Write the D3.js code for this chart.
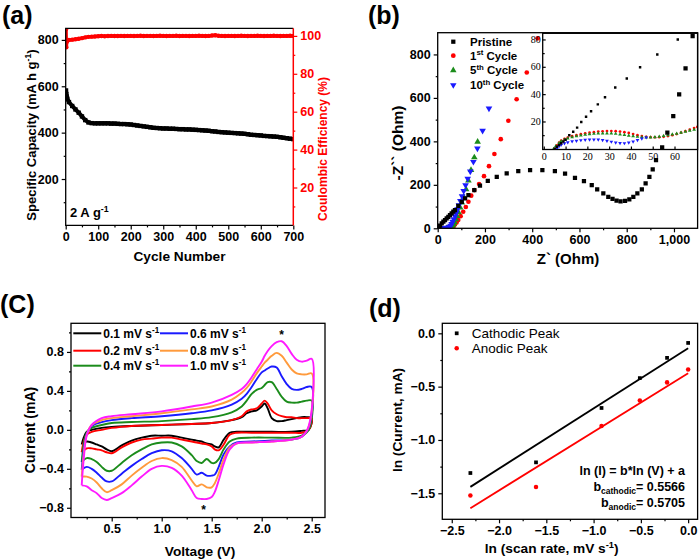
<!DOCTYPE html>
<html>
<head>
<meta charset="utf-8">
<script src="https://cdn.jsdelivr.net/npm/d3@7"></script>
<style>
  body { margin: 0; background: #fff; }
</style>
</head>
<body>
<div id="chart"></div>
<script>
// ---------------- dados ----------------
// (a) ciclagem
var cycles = [1,2,3,4,5,10,20,30,40,50,60,70,80,90,100,110,120,130,140,150,160,170,180,190,200,
  210,220,230,240,250,260,270,280,290,300,310,320,330,340,350,360,370,380,390,400,
  410,420,430,440,450,460,470,480,490,500,510,520,530,540,550,560,570,580,590,600,
  610,620,630,640,650,660,670,680,690,700];
var capacity = [582,566,556,549,545,
  532,515,500,486,470,454,444,441,440,440,
  440,440,440,439,439,438,437,437,436,435,
  433,431,429,427,425,423,421,420,419,418,
  418,417,417,416,415,415,414,414,413,412,
  411,410,409,408,406,405,403,402,401,400,
  399,398,397,396,395,393,391,390,389,388,
  386,385,384,383,382,380,378,376,374,372];
var efficiency = [103.5,94,96.8,97.3,97.5,
  97.8,98,98.2,98.5,98.8,99.2,99.5,99.6,99.7,99.8,
  99.9,99.8,99.9,100,99.9,99.9,100,99.9,100,100,
  99.9,100,100.1,99.9,100,100,99.9,100,100.1,100,
  99.9,100,100,100.1,99.9,100,100,99.9,100,100,
  100.1,100,99.9,100,100.2,100.3,100.1,100,99.9,100,
  100,99.9,100,100.1,100,99.9,100,100,100.1,100,
  99.9,100,100,100.1,100,99.9,100,100,100.1,100];

// (b) EIS
var pristineRe = [5,10,17,24,31,38,45,52,59,66,73,87,102,116,130,155,179,212,250,292,341,391,443,496,539,581,619,652,675,701,722,740,757,774,793,811,828,845,864,880,896,910,924,950,972,997,1022,1049,1079];
var pristineIm = [5,12,23,31,38,46,53,61,69,77,84,103,122,138,153,176,196,218,237,253,263,268,268,263,252,232,217,199,179,161,145,135,127,124,126,133,145,161,179,207,237,271,314,372,440,516,616,736,884];
var cycle1Re = [47,52,57,62,67,73,80,87,97,108,119,130,142,155,175,196,217,240,267,299,334,377,423];
var cycle1Im = [0,0.5,2,5,10,18,27,38,56,76,98,122,150,176,204,240,286,342,410,495,594,717,874];
var cycle5Re = [38,44,50,55,59,63,67,71,76,82,88,95,102,110,120,130,141,155,169];
var cycle5Im = [0,0.5,1,3,6,12,19,29,41,56,74,95,118,145,179,219,268,326,398];
var cycle10Re = [12,20,28,34,40,46,51,55,59,63,68,73,78,84,90,96,103,110,118,127,138,151,168,190,217];
var cycle10Im = [0.5,1,1.5,2,3,4,7,12,20,30,42,56,71,88,106,126,148,172,198,228,262,306,368,449,552];
// (b) inset
var inPristineRe = [5,6,7,8,9,10,11.7,13.5,15.3,17.2,19.4,21.7,24.8,28.1,32.8,38.1,44.2,52.1,61.5];
var inPristineIm = [0,1.5,2.8,4,5.3,6.7,9.9,12.5,15.5,19.6,23.5,27.5,32.5,37.7,44.8,51.4,59.6,69,80];
var inCycle1Re = [5,6,7,8,9.5,11,13,15,17,19,21,23,25,27,29,31,33,35,37,39,41,43,45,47,49,51,53,55,57,59,61,63,65,67,69,70.5];
var inCycle1Im = [0,2.5,4.5,6,7.3,8.2,9.2,10,10.7,11.3,11.8,12.2,12.6,12.8,13,13,12.9,12.6,12.2,11.6,10.8,10,9.3,8.8,8.5,8.4,8.5,8.8,9.3,10,10.8,11.8,12.9,14,15.2,16];
var inCycle5Re = [4.5,5.5,7,8,9.5,11,13,15,17,19,21,23,25,27,29,31,33,35,37,39,41,43,45,47,49,51,53,55,57,59,61,63,65,67,69];
var inCycle5Im = [0,2,4.2,5.5,6.7,7.6,8.5,9.2,9.8,10.3,10.7,11,11.2,11.3,11.3,11.2,11,10.6,10.2,9.7,9.2,8.8,8.5,8.4,8.4,8.6,8.9,9.4,9.9,10.5,11.1,11.8,12.5,13.3,14];
var inCycle10Re = [6,7,8,9.5,11,13,15,17,19,21,23,25,27,29,31,33,35,37,39,41,43,45,47];
var inCycle10Im = [0,1.8,3,4,4.8,5.4,5.9,6.3,6.6,6.8,6.8,6.7,6.4,5.9,5.2,4.6,4.2,4.1,4.5,5.3,6.4,7.5,8.3];

// (c) CV: varredura direta e reversa
var cvForwardV = [0.2,0.22,0.25,0.3,0.4,0.5,0.7,1.0,1.3,1.5,1.7,1.8,1.85,1.9,1.95,2.0,2.03,2.06,2.1,2.15,2.2,2.25,2.3,2.35,2.4,2.45,2.5];
var cvReverseV = [2.5,2.47,2.4,2.3,2.1,1.9,1.75,1.68,1.62,1.57,1.53,1.5,1.45,1.4,1.35,1.3,1.2,1.1,1.0,0.9,0.8,0.7,0.6,0.5,0.45,0.4,0.35,0.3,0.25,0.2];
var cv01Fwd = [-0.15,-0.08,-0.02,0.0,0.02,0.03,0.04,0.05,0.06,0.07,0.1,0.13,0.17,0.19,0.2,0.24,0.27,0.22,0.12,0.09,0.09,0.1,0.11,0.12,0.13,0.13,0.12];
var cv01Rev = [0.07,0.0,-0.01,-0.02,-0.02,-0.02,-0.02,-0.03,-0.1,-0.18,-0.17,-0.15,-0.14,-0.12,-0.11,-0.1,-0.08,-0.06,-0.06,-0.06,-0.08,-0.11,-0.16,-0.22,-0.2,-0.17,-0.15,-0.13,-0.12,-0.14];
var cv02Fwd = [-0.23,-0.12,-0.05,-0.02,0.0,0.02,0.04,0.05,0.06,0.07,0.1,0.14,0.19,0.21,0.22,0.27,0.3,0.27,0.2,0.16,0.14,0.13,0.13,0.12,0.12,0.12,0.12];
var cv02Rev = [0.09,0.0,-0.03,-0.03,-0.03,-0.03,-0.03,-0.05,-0.15,-0.21,-0.2,-0.17,-0.15,-0.14,-0.13,-0.12,-0.1,-0.08,-0.08,-0.09,-0.1,-0.13,-0.18,-0.24,-0.23,-0.21,-0.2,-0.19,-0.19,-0.23];
var cv04Fwd = [-0.33,-0.15,-0.03,0.02,0.05,0.07,0.08,0.09,0.11,0.13,0.18,0.24,0.3,0.37,0.41,0.43,0.46,0.49,0.49,0.42,0.34,0.29,0.28,0.28,0.29,0.3,0.3];
var cv04Rev = [0.2,0.0,-0.06,-0.08,-0.08,-0.08,-0.09,-0.12,-0.2,-0.3,-0.34,-0.34,-0.3,-0.34,-0.32,-0.26,-0.17,-0.13,-0.13,-0.15,-0.2,-0.26,-0.34,-0.42,-0.42,-0.38,-0.33,-0.3,-0.29,-0.33];
var cv06Fwd = [-0.41,-0.2,-0.04,0.04,0.08,0.1,0.12,0.14,0.17,0.2,0.26,0.32,0.37,0.44,0.52,0.59,0.61,0.63,0.65,0.64,0.55,0.47,0.42,0.41,0.42,0.44,0.44];
var cv06Rev = [0.3,0.02,-0.07,-0.1,-0.11,-0.12,-0.13,-0.17,-0.25,-0.38,-0.46,-0.47,-0.47,-0.44,-0.46,-0.4,-0.29,-0.22,-0.21,-0.24,-0.3,-0.37,-0.45,-0.53,-0.53,-0.49,-0.44,-0.4,-0.38,-0.41];
var cv08Fwd = [-0.48,-0.25,-0.05,0.05,0.1,0.12,0.14,0.17,0.21,0.24,0.31,0.38,0.43,0.5,0.58,0.65,0.69,0.72,0.76,0.79,0.76,0.69,0.62,0.58,0.57,0.57,0.58];
var cv08Rev = [0.35,0.03,-0.07,-0.1,-0.12,-0.13,-0.14,-0.18,-0.3,-0.45,-0.55,-0.59,-0.59,-0.56,-0.58,-0.52,-0.38,-0.31,-0.29,-0.32,-0.39,-0.47,-0.56,-0.62,-0.64,-0.6,-0.54,-0.5,-0.48,-0.48];
var cv10Fwd = [-0.57,-0.3,-0.06,0.05,0.12,0.14,0.16,0.19,0.24,0.28,0.36,0.42,0.47,0.54,0.62,0.7,0.76,0.81,0.86,0.9,0.91,0.86,0.78,0.72,0.7,0.71,0.73];
var cv10Rev = [0.4,0.04,-0.07,-0.1,-0.12,-0.13,-0.14,-0.2,-0.35,-0.52,-0.64,-0.69,-0.71,-0.71,-0.7,-0.62,-0.47,-0.39,-0.37,-0.4,-0.48,-0.57,-0.65,-0.7,-0.72,-0.7,-0.65,-0.62,-0.58,-0.57];
var cvRates = ["0.1", "0.2", "0.4", "0.6", "0.8", "1.0"];
var cvColors = ["#000000", "#ff0000", "#1b8c1b", "#1a1aff", "#ff9a3c", "#ff1aff"];

// (d) ln(I) vs ln(v)
var lnRate = [-2.303, -1.609, -0.916, -0.511, -0.223, 0];
var lnCathodic = [-1.31, -1.21, -0.70, -0.42, -0.23, -0.09];
var lnAnodic = [-1.52, -1.44, -0.87, -0.63, -0.46, -0.34];
var fitX = [-2.303, 0];
var cathodicFit = [-1.44, -0.14];
var anodicFit = [-1.64, -0.375];

// ---------------- utilitarios ----------------
var FONT = "Arial, 'Liberation Sans', sans-serif";
var SERIF = "'Times New Roman', 'Liberation Serif', serif";

var svg = d3.select("#chart")
    .append("svg")
    .attr("width", 700)
    .attr("height", 560)
    .style("background", "#fff");

var fmt1 = d3.format(".1f");

function drawAxis(g, axis, transform, color, size, family, weight) {
    var a = g.append("g").attr("transform", transform).call(axis);
    a.select(".domain").remove();
    a.selectAll("line").attr("stroke", color || "#000").attr("stroke-width", 1.2);
    a.selectAll("text")
        .attr("font-family", family || FONT)
        .attr("font-size", size || 12.5)
        .attr("font-weight", weight || "bold")
        .attr("fill", color || "#000");
    return a;
}

function richText(g, x, y, parts, o) {
    var size = o.size;
    var t = g.append("text")
        .attr("x", x).attr("y", y)
        .attr("font-family", o.family || FONT)
        .attr("font-size", size)
        .attr("font-weight", o.weight || "bold")
        .attr("fill", o.fill || "#000")
        .attr("text-anchor", o.anchor || "start");
    if (o.rotate) t.attr("transform", "rotate(" + o.rotate + "," + x + "," + y + ")");
    var shift = 0;
    parts.forEach(function(p) {
        var s = typeof p === "string" ? { t: p } : p;
        var target = s.sup ? -size * 0.38 : (s.sub ? size * 0.25 : 0);
        var sp = t.append("tspan").attr("dy", target - shift).text(s.t);
        if (s.sup || s.sub) sp.attr("font-size", size * 0.68);
        shift = target;
    });
    return t;
}

function box(g, x0, x1, y0, y1) {
    g.append("rect")
        .attr("x", x0).attr("y", y0)
        .attr("width", x1 - x0).attr("height", y1 - y0)
        .attr("fill", "none").attr("stroke", "#000").attr("stroke-width", 1.3);
}

function clip(id, x0, x1, y0, y1) {
    svg.append("clipPath").attr("id", id)
        .append("rect").attr("x", x0).attr("y", y0)
        .attr("width", x1 - x0).attr("height", y1 - y0);
    return "url(#" + id + ")";
}

function zip(xs, ys) {
    return xs.map(function(x, i) { return [x, ys[i]]; });
}

function markers(g, data, xs, ys, type, size, color, rot) {
    var sym = d3.symbol().type(type).size(size);
    g.selectAll(null).data(data).enter().append("path")
        .attr("d", sym)
        .attr("transform", function(d) {
            return "translate(" + xs(d[0]) + "," + ys(d[1]) + ")" + (rot ? " rotate(180)" : "");
        })
        .attr("fill", color);
}

// ---------------- painel (a) ----------------
var A = { l: 65.7, r: 293.3, t: 28.3, b: 225.4 };
var gA = svg.append("g");
var xA = d3.scaleLinear().domain([0, 700]).range([A.l, A.r]);
var yA = d3.scaleLinear().domain([0, 850]).range([A.b, A.t]);
var yA2 = d3.scaleLinear().domain([0, 104]).range([A.b, A.t]);

drawAxis(gA, d3.axisBottom(xA).tickValues([0,100,200,300,400,500,600,700]).tickSize(4).tickPadding(3).tickSizeOuter(0), "translate(0," + A.b + ")");
drawAxis(gA, d3.axisBottom(xA).tickValues([50,150,250,350,450,550,650]).tickSize(2).tickFormat("").tickSizeOuter(0), "translate(0," + A.b + ")");
drawAxis(gA, d3.axisLeft(yA).tickValues([200,400,600,800]).tickSize(4).tickPadding(3).tickSizeOuter(0), "translate(" + A.l + ",0)");
drawAxis(gA, d3.axisLeft(yA).tickValues([100,300,500,700]).tickSize(2).tickFormat("").tickSizeOuter(0), "translate(" + A.l + ",0)");
drawAxis(gA, d3.axisRight(yA2).tickValues([20,40,60,80,100]).tickSize(4).tickPadding(3).tickSizeOuter(0), "translate(" + A.r + ",0)", "#ff0000");
drawAxis(gA, d3.axisRight(yA2).tickValues([10,30,50,70,90]).tickSize(2).tickFormat("").tickSizeOuter(0), "translate(" + A.r + ",0)", "#ff0000");

var clipA = clip("clipA", A.l, A.r, A.t, A.b);
var plotA = gA.append("g").attr("clip-path", clipA);
var capData = zip(cycles, capacity);
var effData = zip(cycles, efficiency);

plotA.append("path")
    .datum(effData)
    .attr("fill", "none").attr("stroke", "#ff0000").attr("stroke-width", 3.5)
    .attr("d", d3.line().x(function(d) { return xA(d[0]); }).y(function(d) { return yA2(d[1]); }));
plotA.selectAll(".eff").data(effData).enter().append("circle")
    .attr("cx", function(d) { return xA(d[0]); })
    .attr("cy", function(d) { return yA2(d[1]); })
    .attr("r", 2.2).attr("fill", "#ff0000");

plotA.append("path")
    .datum(capData)
    .attr("fill", "none").attr("stroke", "#000").attr("stroke-width", 4)
    .attr("d", d3.line().x(function(d) { return xA(d[0]); }).y(function(d) { return yA(d[1]); }));
plotA.selectAll(".cap").data(capData).enter().append("rect")
    .attr("x", function(d) { return xA(d[0]) - 2.2; })
    .attr("y", function(d) { return yA(d[1]) - 2.2; })
    .attr("width", 4.4).attr("height", 4.4).attr("fill", "#000");

// moldura: esquerda/topo/base pretas, direita vermelha
gA.append("path").attr("d", "M" + A.r + "," + A.t + "H" + A.l + "V" + A.b + "H" + A.r)
    .attr("fill", "none").attr("stroke", "#000").attr("stroke-width", 1.3);
gA.append("line").attr("x1", A.r).attr("x2", A.r).attr("y1", A.t).attr("y2", A.b)
    .attr("stroke", "#ff0000").attr("stroke-width", 1.5);

richText(gA, 70, 216.5, ["2 A g", { t: "-1", sup: true }], { size: 13 });
richText(gA, 179.5, 261, ["Cycle Number"], { size: 13.7, anchor: "middle" });
richText(gA, 36, 135, ["Specific Capacity (mA h g", { t: "-1", sup: true }, ")"], { size: 13, anchor: "middle", rotate: -90 });
richText(gA, 327, 149, ["Coulombic Efficiency (%)"], { size: 12, anchor: "middle", rotate: -90, fill: "#ff0000" });
richText(gA, 2, 23.5, ["(a)"], { size: 25 });

// ---------------- painel (b) ----------------
var B = { l: 437.7, r: 697.6, t: 32.7, b: 228.3 };
var gB = svg.append("g");
var xB = d3.scaleLinear().domain([0, 1100]).range([B.l, B.r]);
var yB = d3.scaleLinear().domain([0, 900]).range([B.b, B.t]);

drawAxis(gB, d3.axisBottom(xB).tickValues([0,200,400,600,800,1000]).tickSize(4).tickPadding(3).tickSizeOuter(0), "translate(0," + B.b + ")");
drawAxis(gB, d3.axisBottom(xB).tickValues([100,300,500,700,900]).tickSize(2).tickFormat("").tickSizeOuter(0), "translate(0," + B.b + ")");
drawAxis(gB, d3.axisLeft(yB).tickValues([0,200,400,600,800]).tickSize(4).tickPadding(3).tickSizeOuter(0), "translate(" + B.l + ",0)");
drawAxis(gB, d3.axisLeft(yB).tickValues([100,300,500,700]).tickSize(2).tickFormat("").tickSizeOuter(0), "translate(" + B.l + ",0)");

var clipB = clip("clipB", B.l, B.r, B.t, B.b);
var plotB = gB.append("g").attr("clip-path", clipB);

markers(plotB, zip(cycle1Re, cycle1Im), xB, yB, d3.symbolCircle, 17, "#ff0000");
markers(plotB, zip(cycle5Re, cycle5Im), xB, yB, d3.symbolTriangle, 19, "#1b8c1b");
markers(plotB, zip(cycle10Re, cycle10Im), xB, yB, d3.symbolTriangle, 19, "#1a1aff", true);

// inset
var I = { l: 542.7, r: 697.6, t: 33.3, b: 149.5 };
var xI = d3.scaleLinear().domain([-0.5, 70.6]).range([I.l, I.r]);
var yI = d3.scaleLinear().domain([-0.5, 84.5]).range([I.b, I.t]);
gB.append("rect").attr("x", I.l).attr("y", I.t).attr("width", I.r - I.l).attr("height", I.b - I.t)
    .attr("fill", "#fff");
drawAxis(gB, d3.axisBottom(xI).tickValues([0,10,20,30,40,50,60]).tickSize(-3).tickPadding(3).tickSizeOuter(0), "translate(0," + I.b + ")", "#000", 10, SERIF, "normal");
drawAxis(gB, d3.axisLeft(yI).tickValues([20,40,60,80]).tickSize(-3).tickPadding(2).tickSizeOuter(0), "translate(" + I.l + ",0)", "#000", 10, SERIF, "normal");
drawAxis(gB, d3.axisLeft(yI).tickValues([10,30,50,70]).tickSize(-2).tickFormat("").tickSizeOuter(0), "translate(" + I.l + ",0)");
var clipI = clip("clipI", I.l, I.r, I.t, I.b);
var plotI = gB.append("g").attr("clip-path", clipI);
markers(plotI, zip(inCycle1Re, inCycle1Im), xI, yI, d3.symbolCircle, 6, "#ff0000");
markers(plotI, zip(inCycle5Re, inCycle5Im), xI, yI, d3.symbolTriangle, 6, "#1b8c1b");
markers(plotI, zip(inCycle10Re, inCycle10Im), xI, yI, d3.symbolTriangle, 6, "#1a1aff", true);
markers(plotI, zip(inPristineRe, inPristineIm), xI, yI, d3.symbolSquare, 6, "#000");
box(gB, I.l, I.r, I.t, I.b);

// pristine principal fica por cima do inset
var plotB2 = gB.append("g").attr("clip-path", clipB);
markers(plotB2, zip(pristineRe, pristineIm), xB, yB, d3.symbolSquare, 18, "#000");

box(gB, B.l, B.r, B.t, B.b);

// legenda (b)
var legB = [
    { parts: ["Pristine"], type: d3.symbolSquare, color: "#000", rot: false },
    { parts: ["1", { t: "st", sup: true }, " Cycle"], type: d3.symbolCircle, color: "#ff0000", rot: false },
    { parts: ["5", { t: "th", sup: true }, " Cycle"], type: d3.symbolTriangle, color: "#1b8c1b", rot: false },
    { parts: ["10", { t: "th", sup: true }, " Cycle"], type: d3.symbolTriangle, color: "#1a1aff", rot: true }
];
var legBy = [41.7, 55.7, 70.3, 85];
legB.forEach(function(d, i) {
    gB.append("path")
        .attr("d", d3.symbol().type(d.type).size(18))
        .attr("transform", "translate(453.3," + legBy[i] + ")" + (d.rot ? " rotate(180)" : ""))
        .attr("fill", d.color);
    richText(gB, 470, legBy[i] + 4, d.parts, { size: 11.5 });
});

richText(gB, 568, 264, ["Z` (Ohm)"], { size: 15, anchor: "middle" });
richText(gB, 403, 143, ["-Z`` (Ohm)"], { size: 15.5, anchor: "middle", rotate: -90 });
richText(gB, 368, 23.5, ["(b)"], { size: 25 });

// ---------------- painel (c) ----------------
var C = { l: 71, r: 325, t: 323.3, b: 517.5 };
var gC = svg.append("g");
var xC = d3.scaleLinear().domain([0.093, 2.633]).range([C.l, C.r]);
var yC = d3.scaleLinear().domain([-0.9, 1.094]).range([C.b, C.t]);

drawAxis(gC, d3.axisBottom(xC).tickValues([0.5,1.0,1.5,2.0,2.5]).tickFormat(fmt1).tickSize(4).tickPadding(3).tickSizeOuter(0), "translate(0," + C.b + ")", "#000", 12.5);
drawAxis(gC, d3.axisBottom(xC).tickValues([0.25,0.75,1.25,1.75,2.25]).tickSize(2).tickFormat("").tickSizeOuter(0), "translate(0," + C.b + ")");
drawAxis(gC, d3.axisLeft(yC).tickValues([-0.8,-0.4,0.0,0.4,0.8]).tickFormat(fmt1).tickSize(4).tickPadding(3).tickSizeOuter(0), "translate(" + C.l + ",0)", "#000", 12.5);
drawAxis(gC, d3.axisLeft(yC).tickValues([-0.6,-0.2,0.2,0.6,1.0]).tickSize(2).tickFormat("").tickSizeOuter(0), "translate(" + C.l + ",0)");

var cvSeries = [
    [cv01Fwd, cv01Rev], [cv02Fwd, cv02Rev], [cv04Fwd, cv04Rev],
    [cv06Fwd, cv06Rev], [cv08Fwd, cv08Rev], [cv10Fwd, cv10Rev]
];
var cvLine = d3.line()
    .x(function(d) { return xC(d[0]); })
    .y(function(d) { return yC(d[1]); })
    .curve(d3.curveCatmullRom.alpha(0.5));
var plotC = gC.append("g").attr("clip-path", clip("clipC", C.l, C.r, C.t, C.b));
cvSeries.forEach(function(s, i) {
    var loop = zip(cvForwardV, s[0]).concat(zip(cvReverseV, s[1]).slice(1));
    plotC.append("path")
        .datum(loop)
        .attr("fill", "none")
        .attr("stroke", cvColors[i])
        .attr("stroke-width", 1.9)
        .attr("stroke-linejoin", "round")
        .attr("d", cvLine);
});
box(gC, C.l, C.r, C.t, C.b);

// legenda (c)
var legCx = [73.3, 160];
var legCy = [333.3, 350.7, 365.7];
cvRates.forEach(function(r, i) {
    var col = Math.floor(i / 3), row = i % 3;
    gC.append("line")
        .attr("x1", legCx[col]).attr("x2", legCx[col] + 28)
        .attr("y1", legCy[row]).attr("y2", legCy[row])
        .attr("stroke", cvColors[i]).attr("stroke-width", 2);
    richText(gC, legCx[col] + 30, legCy[row] + 4.3, [r + " mV s", { t: "-1", sup: true }], { size: 12 });
});

richText(gC, xC(2.2), yC(0.93), ["*"], { size: 12, anchor: "middle" });
richText(gC, xC(1.42), yC(-0.86), ["*"], { size: 12, anchor: "middle" });

richText(gC, 200, 556, ["Voltage (V)"], { size: 13.7, anchor: "middle" });
richText(gC, 35, 430, ["Current (mA)"], { size: 14, anchor: "middle", rotate: -90 });
richText(gC, 0, 313, ["(C)"], { size: 25 });

// ---------------- painel (d) ----------------
var D = { l: 442.3, r: 697.6, t: 323.3, b: 519.3 };
var gD = svg.append("g");
var xD = d3.scaleLinear().domain([-2.6, 0.1]).range([D.l, D.r]);
var yD = d3.scaleLinear().domain([-1.744, 0.094]).range([D.b, D.t]);

drawAxis(gD, d3.axisBottom(xD).tickValues([-2.5,-2.0,-1.5,-1.0,-0.5,0.0]).tickFormat(fmt1).tickSize(4).tickPadding(3).tickSizeOuter(0), "translate(0," + D.b + ")", "#000", 12.5);
drawAxis(gD, d3.axisBottom(xD).tickValues([-2.25,-1.75,-1.25,-0.75,-0.25]).tickSize(2).tickFormat("").tickSizeOuter(0), "translate(0," + D.b + ")");
drawAxis(gD, d3.axisLeft(yD).tickValues([-1.5,-1.0,-0.5,0.0]).tickFormat(fmt1).tickSize(4).tickPadding(3).tickSizeOuter(0), "translate(" + D.l + ",0)", "#000", 12.5);
drawAxis(gD, d3.axisLeft(yD).tickValues([-1.25,-0.75,-0.25]).tickSize(2).tickFormat("").tickSizeOuter(0), "translate(" + D.l + ",0)");

var plotD = gD.append("g");
var lineD = d3.line().x(function(d) { return xD(d[0]); }).y(function(d) { return yD(d[1]); });
plotD.append("path").datum(zip(fitX, cathodicFit)).attr("d", lineD)
    .attr("stroke", "#000").attr("stroke-width", 1.8).attr("fill", "none");
plotD.append("path").datum(zip(fitX, anodicFit)).attr("d", lineD)
    .attr("stroke", "#ff0000").attr("stroke-width", 1.8).attr("fill", "none");
markers(plotD, zip(lnRate, lnCathodic), xD, yD, d3.symbolSquare, 14, "#000");
markers(plotD, zip(lnRate, lnAnodic), xD, yD, d3.symbolCircle, 16, "#ff0000");
box(gD, D.l, D.r, D.t, D.b);

gD.append("path").attr("d", d3.symbol().type(d3.symbolSquare).size(14)).attr("transform", "translate(456.7,333.3)").attr("fill", "#000");
gD.append("path").attr("d", d3.symbol().type(d3.symbolCircle).size(16)).attr("transform", "translate(456.7,348.3)").attr("fill", "#ff0000");
richText(gD, 471.7, 338, ["Cathodic Peak"], { size: 13.5, weight: "normal" });
richText(gD, 471.7, 353, ["Anodic Peak"], { size: 13.5, weight: "normal" });

richText(gD, 685, 474.5, ["ln (I) = b*ln (V) + a"], { size: 12.5, anchor: "end" });
richText(gD, 685, 490.5, ["b", { t: "cathodic", sub: true }, "= 0.5566"], { size: 12.5, anchor: "end" });
richText(gD, 685, 507, ["b", { t: "anodic", sub: true }, "= 0.5705"], { size: 12.5, anchor: "end" });

richText(gD, 551.7, 553, ["ln (scan rate, mV s", { t: "-1", sup: true }, ")"], { size: 13.7, anchor: "middle" });
richText(gD, 402, 420, ["ln (Current, mA)"], { size: 13.7, anchor: "middle", rotate: -90 });
richText(gD, 369, 316.5, ["(d)"], { size: 25 });
</script>
</body>
</html>
